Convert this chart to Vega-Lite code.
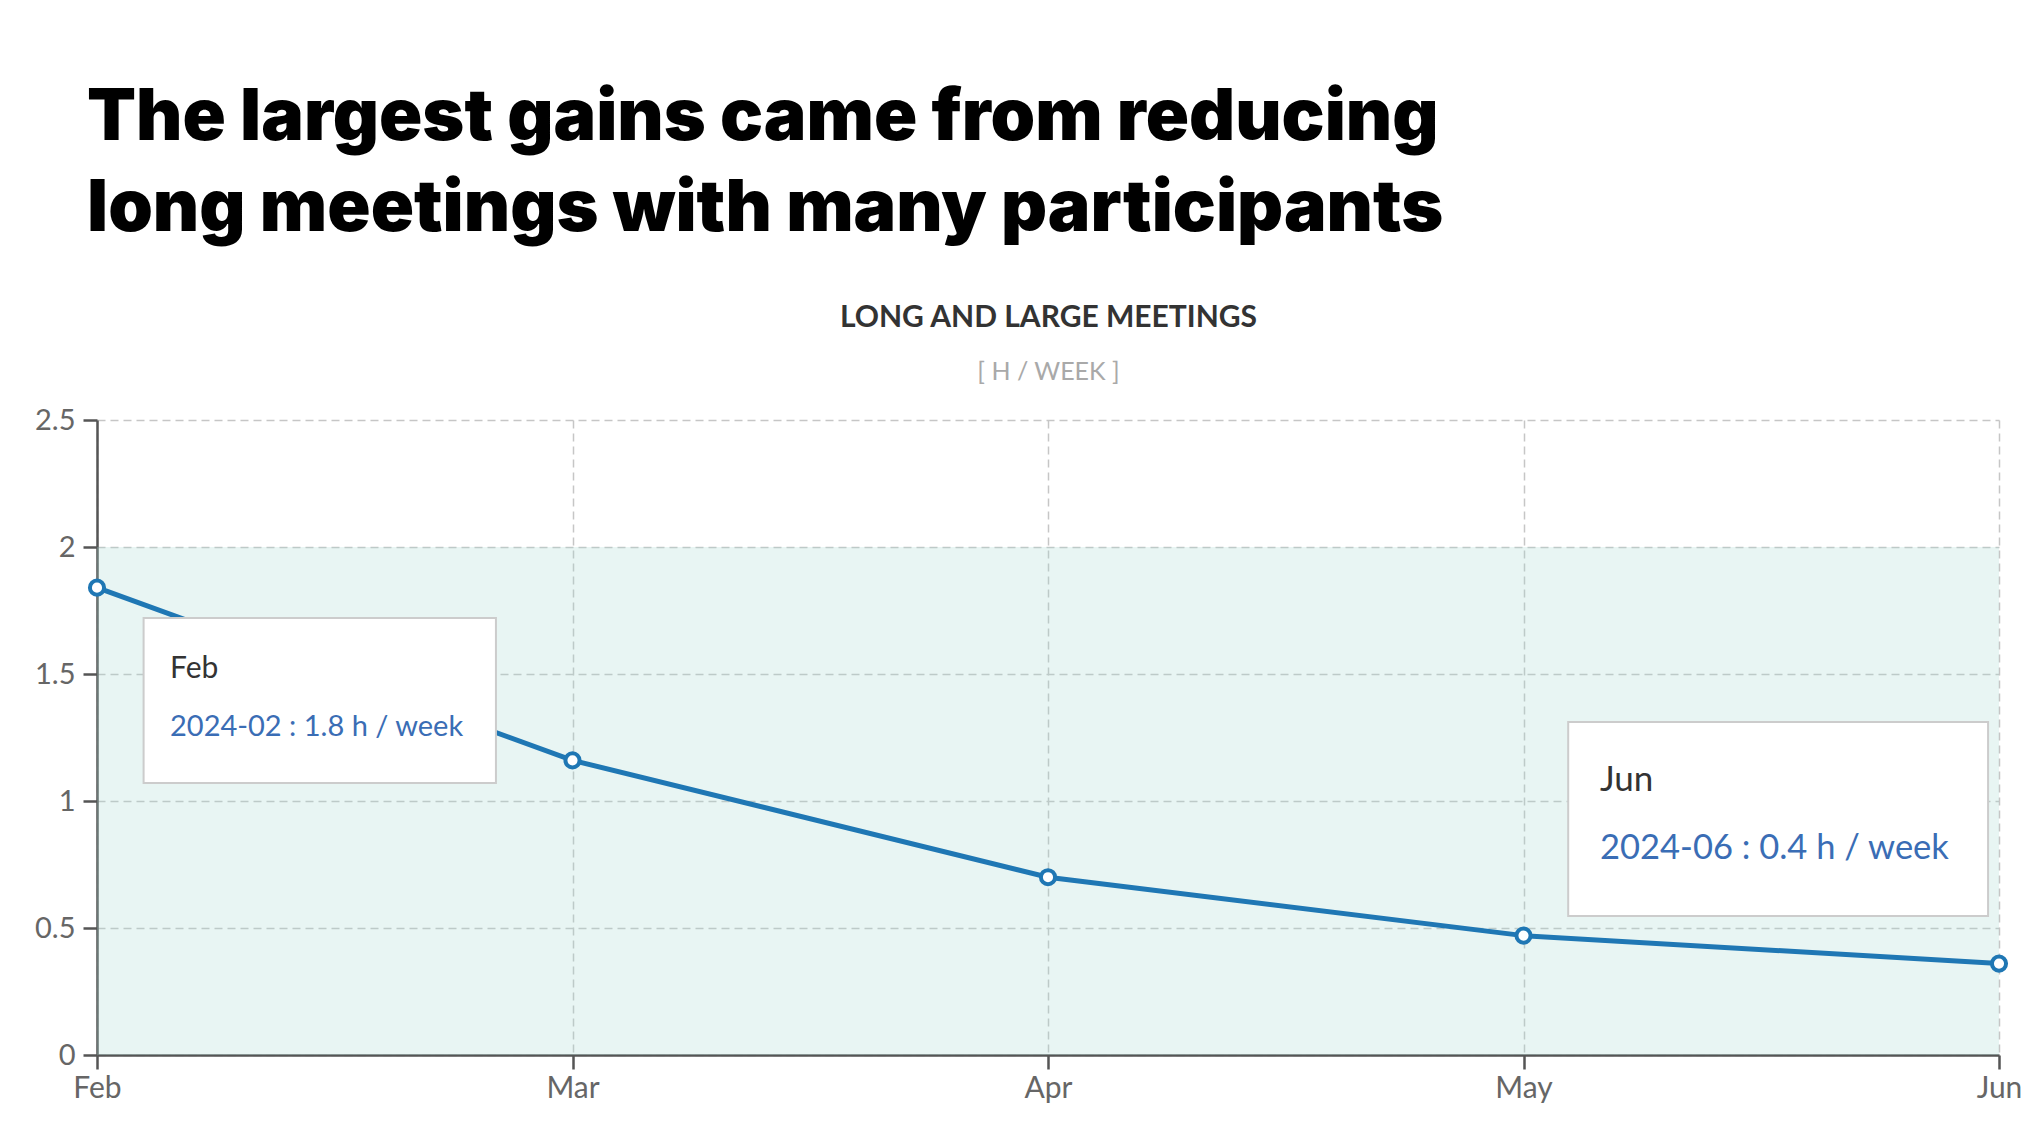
{
  "$schema": "https://vega.github.io/schema/vega-lite/v6.json",
  "width": 1902,
  "height": 635,
  "autosize": {"type": "none"},
  "padding": {"left": 97, "top": 420, "right": 27, "bottom": 77},
  "background": "white",
  "title": {
    "text": ["The largest gains came from reducing", "long meetings with many participants"],
    "anchor": "start",
    "frame": "group",
    "dx": -10,
    "offset": 56,
    "font": "Inter",
    "fontSize": 71.5,
    "fontWeight": 900,
    "color": "#000000",
    "lineHeight": 91
  },
  "config": {
    "view": {"stroke": null},
    "axis": {
      "grid": true,
      "gridDash": [8, 5],
      "gridColor": "#c6c6c6",
      "gridWidth": 1.5,
      "domainColor": "#555555",
      "domainWidth": 2.5,
      "tickColor": "#555555",
      "tickWidth": 2.5,
      "tickSize": 14,
      "labelFont": "Lato",
      "labelColor": "#666666",
      "titleFont": "Lato"
    }
  },
  "datasets": {
    "meetings": [
      {"month": "2024-02", "label": "Feb", "pos": 0, "hours": 1.84},
      {"month": "2024-03", "label": "Mar", "pos": 1, "hours": 1.16},
      {"month": "2024-04", "label": "Apr", "pos": 2, "hours": 0.70},
      {"month": "2024-05", "label": "May", "pos": 3, "hours": 0.47},
      {"month": "2024-06", "label": "Jun", "pos": 4, "hours": 0.36}
    ],
    "target": [{"start": 0, "end": 4, "low": 0, "high": 2}],
    "tooltips": [
      {"month": "Feb", "text": "2024-02 : 1.8 h / week", "left": 0.098, "right": 0.839, "top": 1.72, "bottom": 1.071, "textPos": 0.1535, "headY": 1.484, "lineY": 1.256},
      {"month": "Jun", "text": "2024-06 : 0.4 h / week", "left": 3.094, "right": 3.977, "top": 1.311, "bottom": 0.547, "textPos": 3.161, "headY": 1.039, "lineY": 0.772}
    ]
  },
  "layer": [
    {
      "data": {"name": "target"},
      "mark": {"type": "rect", "fill": "#a6dacf", "fillOpacity": 0.26},
      "encoding": {
        "x": {"field": "start", "type": "quantitative", "title": "LONG AND LARGE MEETINGS",
          "scale": {"domain": [0, 4], "nice": false, "zero": false},
          "axis": {
            "values": [0, 1, 2, 3, 4],
            "labelExpr": "['Feb','Mar','Apr','May','Jun'][datum.value]",
            "labelFlush": false,
            "labelFontSize": 30,
            "labelPadding": 4,
            "titleFontSize": 30,
            "titleFontWeight": "bold",
            "titleColor": "#333333",
            "titleX": 951,
            "titleY": -729,
            "titleAlign": "center",
            "titleBaseline": "alphabetic"
          }
        },
        "x2": {"field": "end"},
        "y": {"field": "low", "type": "quantitative", "title": "[ H / WEEK ]",
          "scale": {"domain": [0, 2.5], "nice": false},
          "axis": {
            "values": [0, 0.5, 1, 1.5, 2, 2.5],
            "format": "~g",
            "labelFontSize": 29,
            "labelPadding": 8,
            "titleAngle": 0,
            "titleFontSize": 25,
            "titleFontWeight": "normal",
            "titleColor": "#a9a9a9",
            "titleX": 951,
            "titleY": -41,
            "titleAlign": "center",
            "titleBaseline": "alphabetic"
          }
        },
        "y2": {"field": "high"}
      }
    },
    {
      "data": {"name": "meetings"},
      "mark": {"type": "line", "color": "#1f77b4", "strokeWidth": 5},
      "encoding": {
        "x": {"field": "pos", "type": "quantitative", "title": "LONG AND LARGE MEETINGS"},
        "y": {"field": "hours", "type": "quantitative", "title": "[ H / WEEK ]"}
      }
    },
    {
      "data": {"name": "meetings"},
      "mark": {"type": "point", "filled": true, "fill": "white", "stroke": "#1f77b4", "strokeWidth": 4, "size": 200, "opacity": 1},
      "encoding": {
        "x": {"field": "pos", "type": "quantitative", "title": "LONG AND LARGE MEETINGS"},
        "y": {"field": "hours", "type": "quantitative", "title": "[ H / WEEK ]"}
      }
    },
    {
      "data": {"name": "tooltips"},
      "mark": {"type": "rect", "fill": "white", "stroke": "#cccccc", "strokeWidth": 2},
      "encoding": {
        "x": {"field": "left", "type": "quantitative", "title": "LONG AND LARGE MEETINGS"},
        "x2": {"field": "right"},
        "y": {"field": "top", "type": "quantitative", "title": "[ H / WEEK ]"},
        "y2": {"field": "bottom"}
      }
    },
    {
      "data": {"name": "tooltips"},
      "transform": [{"filter": "datum.month == 'Feb'"}],
      "mark": {"type": "text", "align": "left", "baseline": "alphabetic", "font": "Lato", "fontSize": 30, "color": "#333333"},
      "encoding": {
        "x": {"field": "textPos", "type": "quantitative", "title": "LONG AND LARGE MEETINGS"},
        "y": {"field": "headY", "type": "quantitative", "title": "[ H / WEEK ]"},
        "text": {"field": "month"}
      }
    },
    {
      "data": {"name": "tooltips"},
      "transform": [{"filter": "datum.month == 'Feb'"}],
      "mark": {"type": "text", "align": "left", "baseline": "alphabetic", "font": "Lato", "fontSize": 29, "color": "#3a6db5"},
      "encoding": {
        "x": {"field": "textPos", "type": "quantitative", "title": "LONG AND LARGE MEETINGS"},
        "y": {"field": "lineY", "type": "quantitative", "title": "[ H / WEEK ]"},
        "text": {"field": "text"}
      }
    },
    {
      "data": {"name": "tooltips"},
      "transform": [{"filter": "datum.month == 'Jun'"}],
      "mark": {"type": "text", "align": "left", "baseline": "alphabetic", "font": "Lato", "fontSize": 35, "color": "#333333"},
      "encoding": {
        "x": {"field": "textPos", "type": "quantitative", "title": "LONG AND LARGE MEETINGS"},
        "y": {"field": "headY", "type": "quantitative", "title": "[ H / WEEK ]"},
        "text": {"field": "month"}
      }
    },
    {
      "data": {"name": "tooltips"},
      "transform": [{"filter": "datum.month == 'Jun'"}],
      "mark": {"type": "text", "align": "left", "baseline": "alphabetic", "font": "Lato", "fontSize": 34.5, "color": "#3a6db5"},
      "encoding": {
        "x": {"field": "textPos", "type": "quantitative", "title": "LONG AND LARGE MEETINGS"},
        "y": {"field": "lineY", "type": "quantitative", "title": "[ H / WEEK ]"},
        "text": {"field": "text"}
      }
    }
  ]
}
